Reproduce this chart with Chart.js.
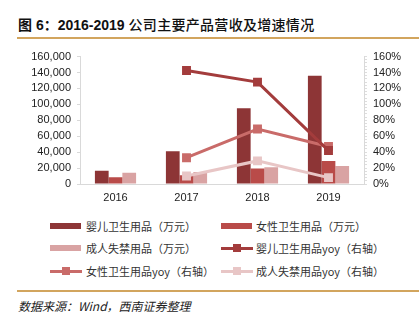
<!DOCTYPE html>
<html><head><meta charset="utf-8">
<script src="https://cdn.jsdelivr.net/npm/chart.js@4.4.0/dist/chart.umd.min.js"></script>
<style>
html,body{margin:0;padding:0;background:#fff;}
#wrap{position:relative;width:419px;height:323px;overflow:hidden;font-family:"Liberation Sans","Noto Sans CJK SC",sans-serif;}
#title{position:absolute;left:18px;top:14px;font-size:14px;color:#111;white-space:nowrap;font-family:"Liberation Sans","Noto Sans CJK SC",sans-serif;}
#title b{font-weight:bold;}
#title span{font-weight:500;letter-spacing:0.3px;}
.rule{position:absolute;left:17px;width:402px;background:#D2A55E;}
#cv{position:absolute;left:0;top:44px;}
.lg{position:absolute;font-size:11px;color:#333;white-space:nowrap;font-family:"Noto Sans CJK SC",sans-serif;line-height:14px;}
.sw{position:absolute;}
#src{position:absolute;left:18px;top:297px;font-size:12px;font-style:italic;color:#222;font-family:"Noto Sans CJK SC",sans-serif;white-space:nowrap;}
</style></head>
<body>
<div id="wrap">
  <div id="title"><b>图 6：2016-2019 </b><span>公司主要产品营收及增速情况</span></div>
  <div class="rule" style="top:37px;height:2px;"></div>
  <canvas id="cv" width="419" height="166" style="width:419px;height:166px;"></canvas>
  <div id="legend"></div>
  <div class="rule" style="top:290px;height:1.5px;"></div>
  <div id="src">数据来源：Wind，西南证券整理</div>
</div>
<script>
const categories = ['2016', '2017', '2018', '2019'];
const babyRevenue = [16600, 41000, 95000, 136000];
const femaleRevenue = [8400, 11000, 19600, 29000];
const adultRevenue = [14000, 15000, 21000, 22500];
const babyYoy = [null, 142.5, 128, 42];
const femaleYoy = [null, 33, 69, 47];
const adultYoy = [null, 10, 29, 8];
const seriesNames = ['婴儿卫生用品（万元）','女性卫生用品（万元）','成人失禁用品（万元）','婴儿卫生用品yoy（右轴）','女性卫生用品yoy（右轴）','成人失禁用品yoy（右轴）'];
const leftTicks = [0,20000,40000,60000,80000,100000,120000,140000,160000];
const rightTicks = [0,20,40,60,80,100,120,140,160];

const cBar = ['#8D3536','#B94B49','#D9A3A3'];
const cLine = ['#A33C3C','#C96B69','#E8C6C6'];

const tickFont = {family:'Liberation Sans', size:11};
const barDs = (label, data, color) => ({type:'bar', label, data, backgroundColor:color, yAxisID:'y', order:2,
  categoryPercentage:0.58, barPercentage:1.0, borderWidth:0});
const lineDs = (label, data, color) => ({type:'line', label, data, borderColor:color, backgroundColor:color,
  borderWidth:3, pointStyle:'rect', pointRadius:6.3, pointHoverRadius:6.3, pointBorderWidth:0,
  yAxisID:'y1', order:1, tension:0});

new Chart(document.getElementById('cv'), {
  data: {
    labels: categories,
    datasets: [
      barDs(seriesNames[0], babyRevenue, cBar[0]),
      barDs(seriesNames[1], femaleRevenue, cBar[1]),
      barDs(seriesNames[2], adultRevenue, cBar[2]),
      lineDs(seriesNames[3], babyYoy, cLine[0]),
      lineDs(seriesNames[4], femaleYoy, cLine[1]),
      lineDs(seriesNames[5], adultYoy, cLine[2]),
    ]
  },
  options: {
    responsive:false, animation:false,
    layout:{padding:{top:12,left:0,right:0,bottom:0}},
    plugins:{legend:{display:false}, tooltip:{enabled:false}},
    scales:{
      x:{
        grid:{display:false, drawTicks:false},
        border:{display:true,color:'#D9D9D9',width:1},
        ticks:{font:tickFont,color:'#222',padding:7},
        afterFit:(s)=>{s.height=26;}
      },
      y:{
        position:'left', min:0, max:160000,
        afterBuildTicks:(s)=>{s.ticks = leftTicks.map(v=>({value:v}));},
        grid:{drawOnChartArea:false, tickLength:3, color:'#D9D9D9'},
        border:{display:true,color:'#D9D9D9',width:1},
        ticks:{font:tickFont,color:'#222',padding:6,autoSkip:false,callback:(v)=>v.toLocaleString('en-US')},
        afterFit:(s)=>{s.width=80;}
      },
      y1:{
        position:'right', min:0, max:160,
        afterBuildTicks:(s)=>{const t=[];for(let v=0;v<=160;v+=4)t.push({value:v});s.ticks=t;},
        grid:{drawOnChartArea:false, tickLength:3, color:'#DDDDDD'},
        border:{display:true,color:'#D9D9D9',width:1},
        ticks:{font:tickFont,color:'#222',padding:6,autoSkip:false,
          callback:(v)=> rightTicks.includes(v) ? v+'%' : ''},
        afterFit:(s)=>{s.width=55;}
      }
    }
  }
});

// HTML legend
const lg = document.getElementById('legend');
const rows = [225.7, 248.3, 271];
const colsSw = [50, 221];
const colsTx = [86, 256];
const kinds = ['bar','bar','bar','line','line','line'];
const colors = [cBar[0],cBar[1],cBar[2],cLine[0],cLine[1],cLine[2]];
seriesNames.forEach((name,i)=>{
  const r = Math.floor(i/2), c = i%2;
  const y = rows[r];
  if(kinds[i]==='bar'){
    const s=document.createElement('div');s.className='sw';
    s.style.cssText=`left:${colsSw[c]}px;top:${y-3}px;width:31px;height:6px;background:${colors[i]};`;
    lg.appendChild(s);
  } else {
    const s=document.createElement('div');s.className='sw';
    s.style.cssText=`left:${colsSw[c]}px;top:${y-1.5}px;width:32px;height:3px;background:${colors[i]};`;
    lg.appendChild(s);
    const m=document.createElement('div');m.className='sw';
    m.style.cssText=`left:${colsSw[c]+12}px;top:${y-4}px;width:8px;height:8px;background:${colors[i]};`;
    lg.appendChild(m);
  }
  const t=document.createElement('div');t.className='lg';
  t.style.left=colsTx[c]+'px';t.style.top=(y-7)+'px';
  t.textContent=name;
  lg.appendChild(t);
});
</script>
</body></html>
